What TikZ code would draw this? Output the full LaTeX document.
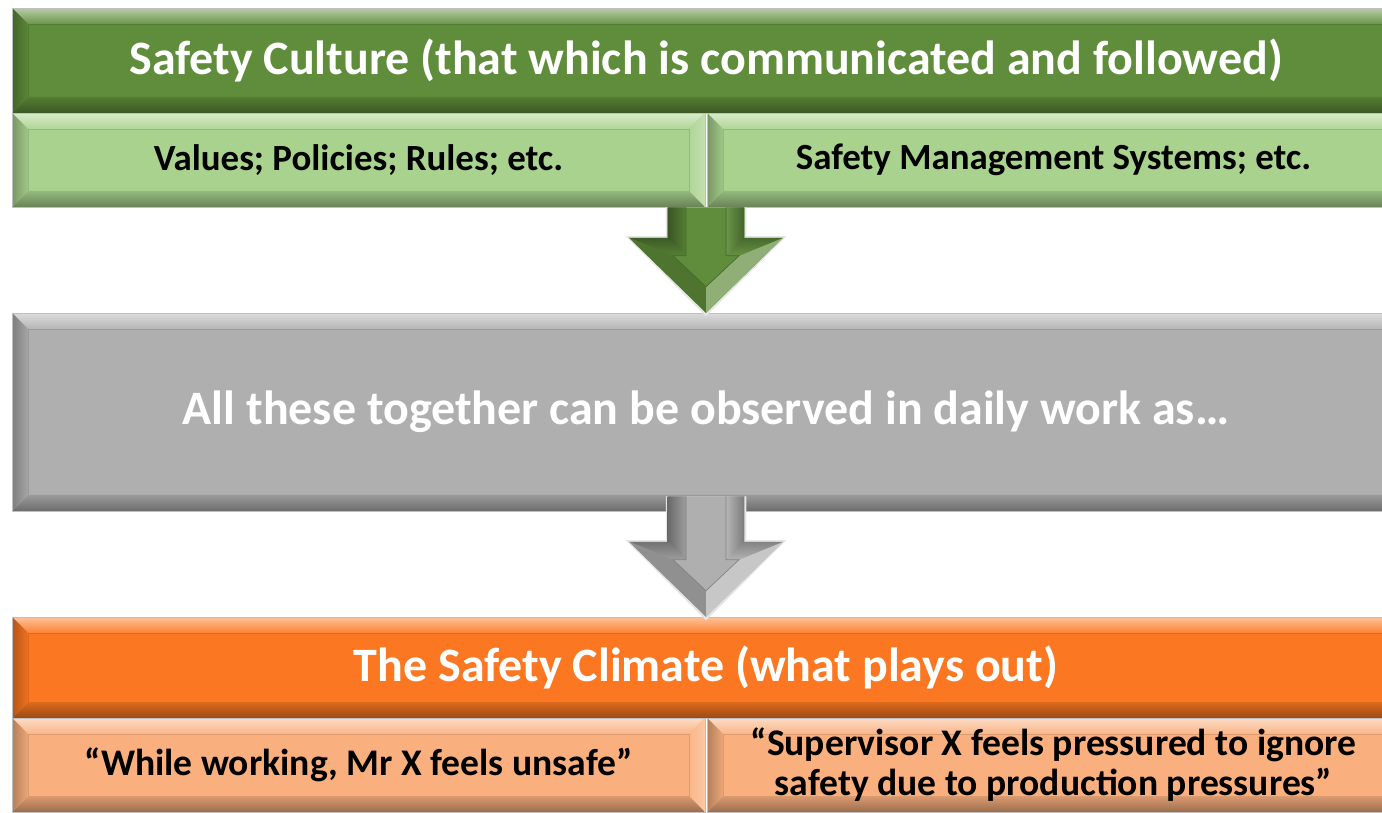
\documentclass[tikz,border=0pt]{standalone}
\usepackage{fontspec}
\setmainfont{Carlito}
\usetikzlibrary{calc}

\definecolor{cultgreen}{RGB}{95,141,59}
\definecolor{lightgreen}{RGB}{169,210,142}
\definecolor{obsgray}{RGB}{175,175,175}
\definecolor{climorange}{RGB}{252,119,33}
\definecolor{lightorange}{RGB}{249,176,126}

\newcommand\bevw{0.32cm}
\newcommand\hdfont{\fontsize{27.3}{32}\selectfont\bfseries}
\newcommand\subfont{\fontsize{21}{25}\selectfont\bfseries}
\newcommand\quotefont{\fontsize{21.4}{22.7}\selectfont\bfseries}

\tikzset{
  bevel/.style={rectangle, fill=#1, draw=black!25, line width=0.3pt,
    inner sep=0pt, align=center,
    path picture={
      \path (path picture bounding box.north west) coordinate (bnw)
            (path picture bounding box.south east) coordinate (bse)
            (bnw -| bse) coordinate (bne) (bnw |- bse) coordinate (bsw)
            ([shift={(\bevw,-\bevw)}]bnw) coordinate (inw)
            ([shift={(-\bevw,-\bevw)}]bne) coordinate (ine)
            ([shift={(-\bevw,\bevw)}]bse) coordinate (ise)
            ([shift={(\bevw,\bevw)}]bsw) coordinate (isw);
      % facets
      \shade[top color=#1!45!white, bottom color=#1!92!white]
        (bnw) -- (bne) -- (ine) -- (inw) -- cycle;
      \shade[left color=#1!92!white, right color=#1!70!white]
        (bne) -- (bse) -- (ise) -- (ine) -- cycle;
      \shade[top color=#1!88!black, bottom color=#1!62!black]
        (bse) -- (bsw) -- (isw) -- (ise) -- cycle;
      \shade[left color=#1!72!black, right color=#1!95!black]
        (bsw) -- (bnw) -- (inw) -- (isw) -- cycle;
      \draw[#1!88!black, line width=0.3pt] (inw) rectangle (ise);
    }},
  boxw/.style={minimum width=27.76cm},
  halfw/.style={minimum width=13.86cm, minimum height=1.88cm},
}

% block arrow: #1 top of shaft, #2 tip, #3 colour
\newcommand\blockarrow[3]{%
  \coordinate (ba-t) at (#1);
  \coordinate (ba-d) at (#1 |- #2);
  \path ([xshift=-0.77cm]ba-t) coordinate (oA)
        ([shift={(-0.77cm,1.5cm)}]ba-d) coordinate (oB)
        ([shift={(-1.54cm,1.5cm)}]ba-d) coordinate (oC)
        (ba-d) coordinate (oD)
        ([shift={(1.54cm,1.5cm)}]ba-d) coordinate (oE)
        ([shift={(0.77cm,1.5cm)}]ba-d) coordinate (oF)
        ([xshift=0.77cm]ba-t) coordinate (oG)
        ([xshift=-0.4cm]ba-t) coordinate (iA)
        ([shift={(-0.4cm,1.14cm)}]ba-d) coordinate (iB)
        ([shift={(-0.66cm,1.14cm)}]ba-d) coordinate (iC)
        ([yshift=0.52cm]ba-d) coordinate (iD)
        ([shift={(0.66cm,1.14cm)}]ba-d) coordinate (iE)
        ([shift={(0.4cm,1.14cm)}]ba-d) coordinate (iF)
        ([xshift=0.4cm]ba-t) coordinate (iG);
  \fill[white!80!gray] ([shift={(-1pt,0)}]oA) -- ([shift={(-1pt,1pt)}]oB)
    -- ([shift={(-2pt,1pt)}]oC) -- ([yshift=-2pt]oD) -- ([shift={(2pt,1pt)}]oE)
    -- ([shift={(1pt,1pt)}]oF) -- ([xshift=1pt]oG) -- cycle;
  \fill[#3] (oA) -- (oB) -- (oC) -- (oD) -- (oE) -- (oF) -- (oG) -- cycle;
  \shade[left color=#3!60!black, right color=#3!90!black]
    (oA) -- (oB) -- (iB) -- (iA) -- cycle;
  \shade[top color=#3!65!black, bottom color=#3!90!black]
    (oB) -- (oC) -- (iC) -- (iB) -- cycle;
  \fill[#3!82!black] (oC) -- (oD) -- (iD) -- (iC) -- cycle;
  \fill[#3!70!white] (oD) -- (oE) -- (iE) -- (iD) -- cycle;
  \shade[top color=#3!75!black, bottom color=#3!95!white]
    (oE) -- (oF) -- (iF) -- (iE) -- cycle;
  \shade[left color=#3!92!white, right color=#3!70!black]
    (oF) -- (oG) -- (iG) -- (iF) -- cycle;
  \draw[#3!75!black, line width=0.4pt]
    (iA) -- (iB) -- (iC) -- (iD) -- (iE) -- (iF) -- (iG);
}

\begin{document}
\begin{tikzpicture}[x=0.02cm, y=-0.02cm]

\useasboundingbox (0,0) rectangle (1382,812);

% safety culture
\node[bevel=cultgreen, boxw, minimum height=2.1cm, text=white, font=\hdfont]
  (culture) at (706,60.5) {Safety Culture (that which is communicated and followed)};
\node[bevel=lightgreen, halfw, font=\subfont] (values) at (358.5,160)
  {Values; Policies; Rules; etc.};
\node[bevel=lightgreen, halfw, font=\subfont] (sms) at (1053.5,160)
  {Safety Management Systems; etc.};

% daily work
\node[bevel=obsgray, boxw, minimum height=3.96cm, text=white, font=\hdfont]
  (observe) at (706,412) {All these together can be observed in daily work as\dots};

% safety climate
\node[bevel=climorange, boxw, minimum height=2.02cm, text=white, font=\hdfont]
  (climate) at (706,667.5) {The Safety Climate (what plays out)};
\node[bevel=lightorange, halfw, font=\quotefont] (unsafe) at (358.5,765)
  {“While working, Mr X feels unsafe”};
\node[bevel=lightorange, halfw, font=\quotefont] (pressure) at (1053.5,765)
  {“Supervisor X feels pressured to ignore\\safety due to production pressures”};

% arrows
\coordinate (junction) at ($(values.south east)!0.5!(sms.south west)$);
\blockarrow{junction}{observe.north}{cultgreen}
\coordinate (obsbase) at ([yshift=0.3cm]observe.south -| junction);
\blockarrow{obsbase}{climate.north}{obsgray}

\end{tikzpicture}
\end{document}
